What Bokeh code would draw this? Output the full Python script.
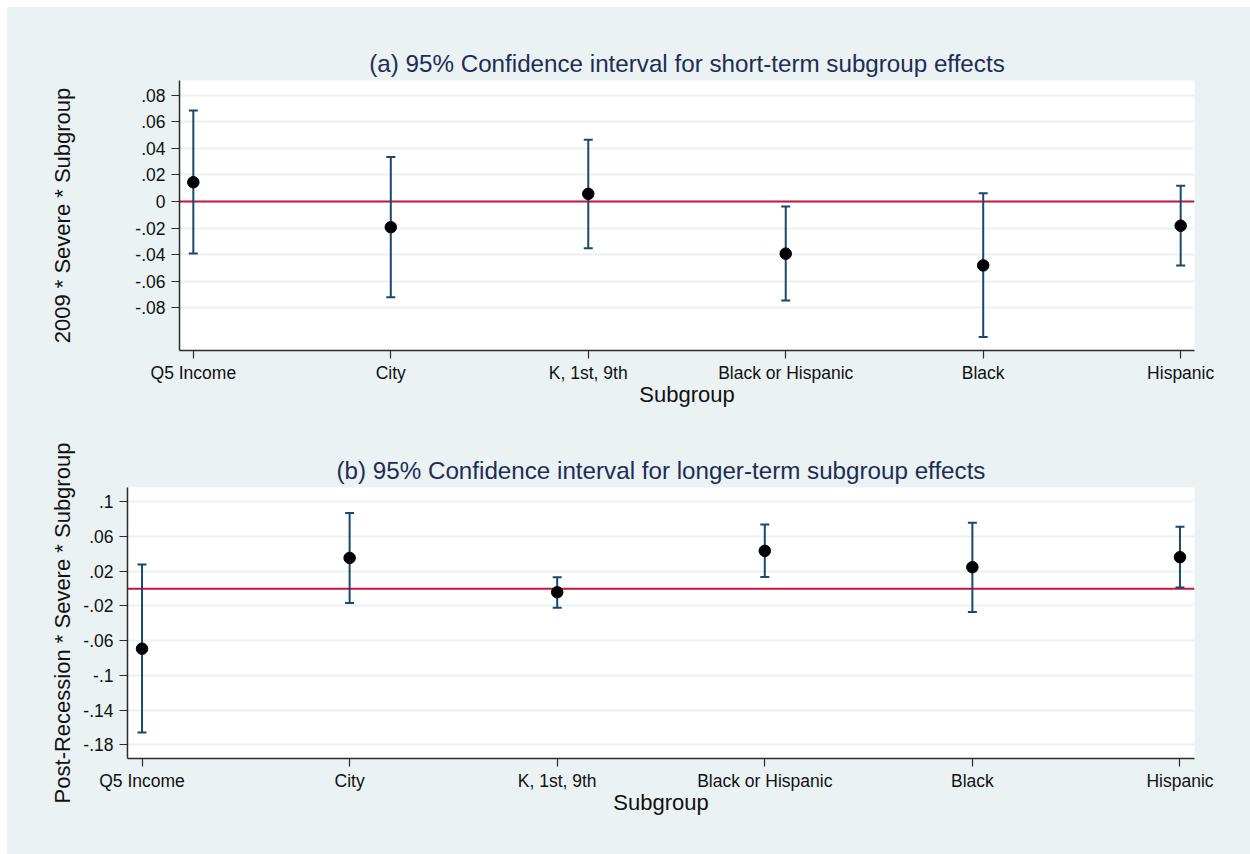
from bokeh.plotting import figure
from bokeh.layouts import column, row
from bokeh.models import Range1d, FixedTicker, Span, Spacer
from bokeh.embed import file_html
from bokeh.resources import INLINE

# ---------------- data ----------------
categories = ["Q5 Income", "City", "K, 1st, 9th", "Black or Hispanic", "Black", "Hispanic"]

short_est = [0.0145, -0.0193, 0.0058, -0.0392, -0.048, -0.0182]
short_lo = [-0.039, -0.072, -0.0352, -0.0745, -0.1018, -0.048]
short_hi = [0.0685, 0.0335, 0.0465, -0.0038, 0.0062, 0.0118]

long_est = [-0.0692, 0.0354, -0.0042, 0.0435, 0.0247, 0.0362]
long_lo = [-0.1657, -0.0165, -0.0219, 0.0135, -0.0269, 0.0012]
long_hi = [0.0277, 0.087, 0.0131, 0.0738, 0.0758, 0.0712]

short_ticks = [-0.08, -0.06, -0.04, -0.02, 0, 0.02, 0.04, 0.06, 0.08]
short_tick_labels = ["-.08", "-.06", "-.04", "-.02", "0", ".02", ".04", ".06", ".08"]
long_ticks = [-0.18, -0.14, -0.1, -0.06, -0.02, 0.02, 0.06, 0.1]
long_tick_labels = ["-.18", "-.14", "-.1", "-.06", "-.02", ".02", ".06", ".1"]

title_a = "(a) 95% Confidence interval for short-term subgroup effects"
title_b = "(b) 95% Confidence interval for longer-term subgroup effects"
ylabel_a = "2009 * Severe * Subgroup"
ylabel_b = "Post-Recession * Severe * Subgroup"
xlabel = "Subgroup"

# ---------------- style ----------------
BG = "#EAF2F3"
NAVY = "#1A476F"
RED = "#C8143C"
TITLE_COLOR = "#1E2D55"
FONT = "Liberation Sans"
xpos = list(range(1, len(categories) + 1))


def make_panel(title, ylabel, est, lo, hi, ticks, tick_labels, yr,
               height, bl, bt, bb, ylab_standoff, title_standoff):
    p = figure(width=1243, height=height, output_backend="svg", toolbar_location=None,
               x_range=Range1d(0.93, 6.07), y_range=Range1d(*yr),
               min_border_left=bl, min_border_right=56, min_border_top=bt,
               min_border_bottom=bb, frame_align=False)
    p.background_fill_color = "white"
    p.border_fill_color = BG
    p.outline_line_color = None

    p.title.text = title
    p.title.align = "center"
    p.title.text_font = FONT
    p.title.text_font_size = "24.2px"
    p.title.text_font_style = "normal"
    p.title.text_color = TITLE_COLOR
    p.title.standoff = title_standoff

    p.xgrid.visible = False
    p.ygrid.grid_line_color = BG
    p.ygrid.grid_line_width = 2

    zero = Span(location=0, dimension="width", line_color=RED, line_width=2,
                level="underlay")
    p.add_layout(zero)

    p.segment(x0=xpos, y0=lo, x1=xpos, y1=hi, line_color=NAVY, line_width=2)
    p.scatter(x=xpos, y=lo, marker="dash", size=9, line_color=NAVY, line_width=2)
    p.scatter(x=xpos, y=hi, marker="dash", size=9, line_color=NAVY, line_width=2)
    p.scatter(x=xpos, y=est, marker="circle", size=11.5, fill_color="black",
              line_color="black")

    for ax in (p.xaxis[0], p.yaxis[0]):
        ax.axis_line_color = "#2b2b2b"
        ax.axis_line_width = 1.5
        ax.major_tick_line_color = "#2b2b2b"
        ax.major_tick_line_width = 1.2
        ax.major_tick_out = 8
        ax.major_tick_in = 0
        ax.minor_tick_line_color = None
        ax.major_label_text_font = FONT
        ax.major_label_text_font_size = "17.5px"
        ax.major_label_text_color = "#111111"
        ax.axis_label_text_font = FONT
        ax.axis_label_text_font_size = "22px"
        ax.axis_label_text_font_style = "normal"
        ax.axis_label_text_color = "#111111"

    p.xaxis.ticker = FixedTicker(ticks=xpos)
    p.xaxis.major_label_overrides = {x: c for x, c in zip(xpos, categories)}
    p.xaxis.major_label_standoff = 4
    p.xaxis.axis_label = xlabel
    p.xaxis.axis_label_standoff = -4

    p.yaxis.ticker = FixedTicker(ticks=ticks)
    p.yaxis.major_label_overrides = {t: l for t, l in zip(ticks, tick_labels)}
    p.yaxis.major_label_orientation = "horizontal"
    p.yaxis.major_label_standoff = 6
    p.yaxis.axis_label = ylabel
    p.yaxis.axis_label_standoff = ylab_standoff
    return p


pa = make_panel(title_a, ylabel_a, short_est, short_lo, short_hi,
                short_ticks, short_tick_labels, (-0.112, 0.091),
                height=413, bl=172, bt=73, bb=70, ylab_standoff=57, title_standoff=8)
pb = make_panel(title_b, ylabel_b, long_est, long_lo, long_hi,
                long_ticks, long_tick_labels, (-0.1957, 0.1165),
                height=434, bl=120, bt=67, bb=96, ylab_standoff=5, title_standoff=7)

inner = column(pa, pb, spacing=0, styles={"background-color": BG})
layout = column(Spacer(height=7), row(Spacer(width=7), inner, spacing=0), spacing=0)
open("out.html", "w").write(file_html(layout, INLINE))
